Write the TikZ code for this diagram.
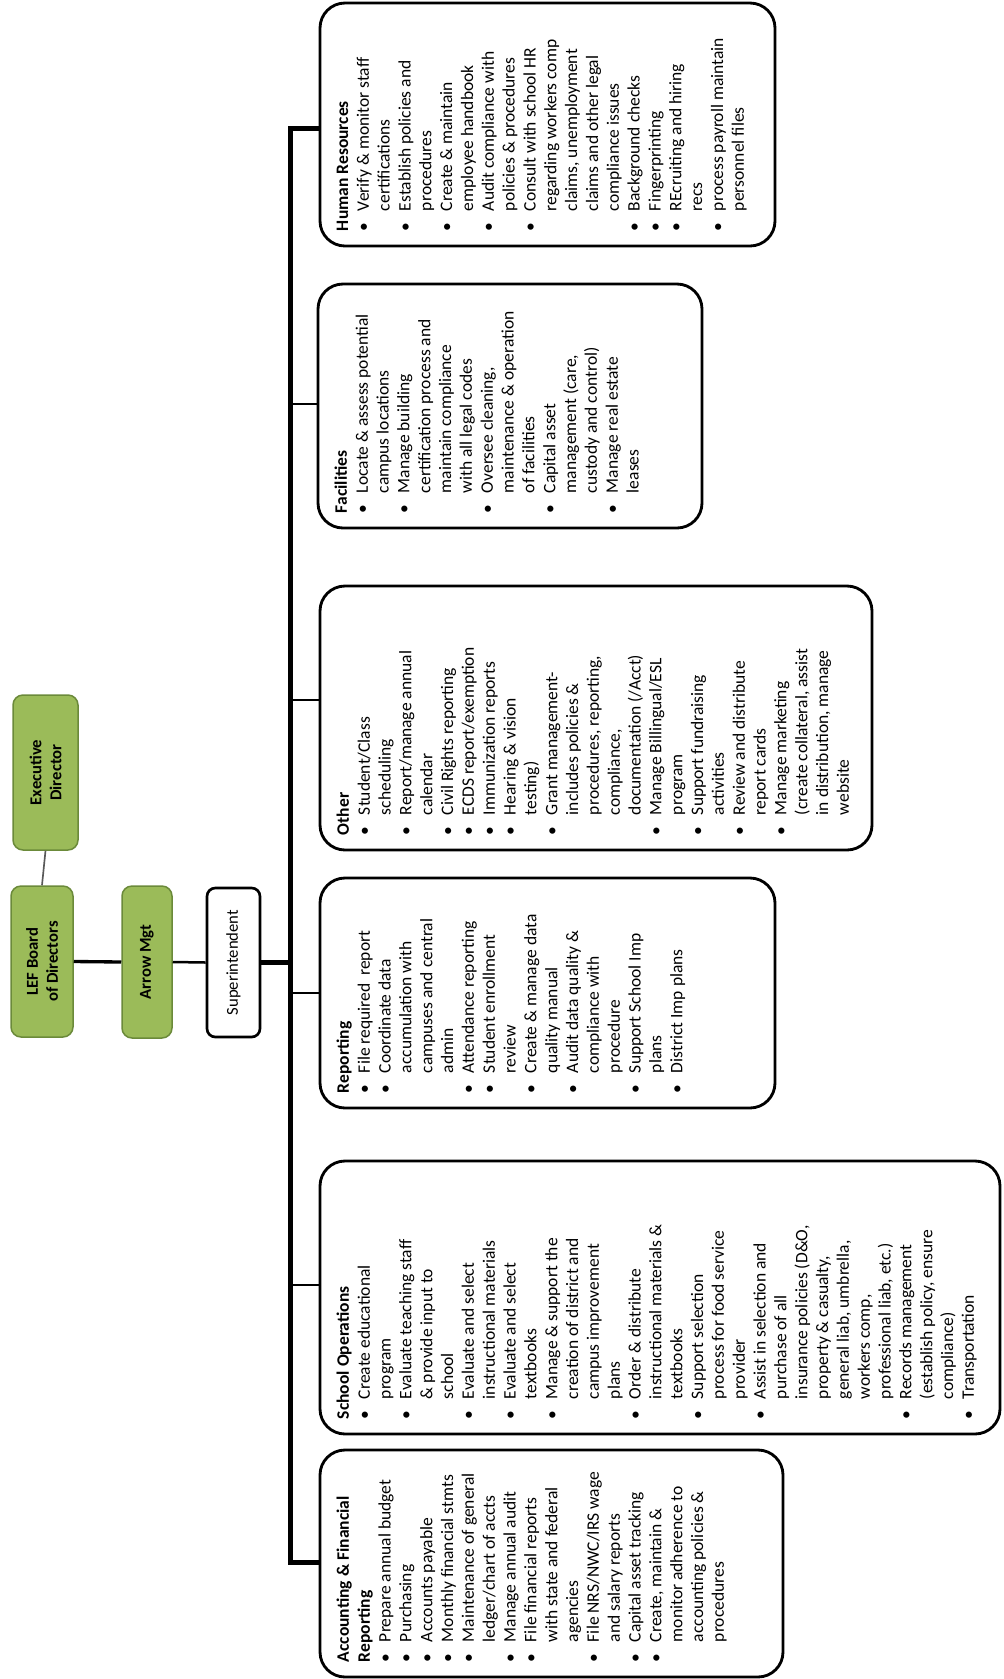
\documentclass[tikz,border=0pt]{standalone}
\usepackage{fontspec}
\setmainfont{Carlito}
\definecolor{boardgreen}{HTML}{9BBB59}
\definecolor{boardline}{HTML}{6B8A3A}
\newcommand{\deptlist}[3]{\begin{minipage}[t][#2][t]{#1}\raggedright\let\\\newline\fontsize{10.5}{12.5}\selectfont #3\end{minipage}}
\newcommand{\bitem}{\par\hangindent=12pt\hangafter=1\noindent\makebox[12pt][l]{\textbullet}}

\begin{document}
\begin{tikzpicture}[x=0.6pt, y=-0.6pt,
                dept/.style={draw, line width=1.7pt, rounded corners=15pt, rotate=90, inner xsep=9pt, inner ysep=10pt},
                greenbox/.style={draw=boardline, line width=0.9pt, fill=boardgreen, rounded corners=6pt, rotate=90, inner sep=0pt, align=center, font=\bfseries\fontsize{10}{12}\selectfont},
                superbox/.style={draw, line width=1.6pt, rounded corners=5pt, rotate=90, inner sep=0pt, font=\fontsize{10}{12}\selectfont},
                trunk/.style={line width=3pt},
                branch/.style={line width=1.3pt}]
                \useasboundingbox (0,0) rectangle (1003,1679);
                % Boxes, nodes and lines:
                \node[greenbox, minimum width=93pt, minimum height=39pt](Exec) at (45.5, 772.5){Executive\\Director};
                \node[greenbox, minimum width=90.6pt, minimum height=37.2pt](Board) at (42, 961.5){LEF Board\\of Directors};
                \node[greenbox, minimum width=91.2pt, minimum height=30pt](Arrow) at (147, 962){Arrow Mgt};
                \node[superbox, minimum width=89.4pt, minimum height=31.8pt](Super) at (233.5, 962.5){Superintendent};
                \node[dept](HR) at (547.5, 124.5){\deptlist{127.8pt}{253pt}{\textbf{Human Resources}
                        \bitem Verify \& monitor staff\\certifications
                        \bitem Establish policies and\\procedures
                        \bitem Create \& maintain\\employee handbook
                        \bitem Audit compliance with\\policies \& procedures
                        \bitem Consult with school HR\\regarding workers comp\\claims, unemployment\\claims and other legal\\compliance issues
                        \bitem Background checks
                        \bitem Fingerprinting
                        \bitem REcruiting and hiring\\recs
                        \bitem process payroll maintain\\personnel files}};
                \node[dept](Fac) at (510, 406){\deptlist{128.4pt}{210.4pt}{\textbf{Facilities}
                        \bitem Locate \& assess potential\\campus locations
                        \bitem Manage building\\certification process and\\maintain compliance\\with all legal codes
                        \bitem Oversee cleaning,\\maintenance \& operation\\of facilities
                        \bitem Capital asset\\management (care,\\custody and control)
                        \bitem Manage real estate\\leases}};
                \node[dept](Oth) at (596, 718){\deptlist{140.4pt}{311.2pt}{\textbf{Other}
                        \bitem Student/Class\\scheduling
                        \bitem Report/manage annual\\calendar
                        \bitem Civil Rights reporting
                        \bitem ECDS report/exemption
                        \bitem Immunization reports
                        \bitem Hearing \& vision\\testing)
                        \bitem Grant management-\\includes policies \&\\procedures, reporting,\\compliance,\\documentation (/Acct)
                        \bitem Manage Billingual/ESL\\program
                        \bitem Support fundraising\\activities
                        \bitem Review and distribute\\report cards
                        \bitem Manage marketing\\(create collateral, assist\\in distribution, manage\\website}};
                \node[dept](Rep) at (547.5, 993){\deptlist{120pt}{253pt}{\textbf{Reporting}
                        \bitem File required\ \ report
                        \bitem Coordinate data\\accumulation with\\campuses and central\\admin
                        \bitem Attendance reporting
                        \bitem Student enrollment\\review
                        \bitem Create \& manage data\\quality manual
                        \bitem Audit data quality \&\\compliance with\\procedure
                        \bitem Support School Imp\\plans
                        \bitem District Imp plans}};
                \node[dept](Ops) at (660, 1297.5){\deptlist{145.8pt}{388pt}{\textbf{School Operations}
                        \bitem Create educational\\program
                        \bitem Evaluate teaching staff\\\& provide input to\\school
                        \bitem Evaluate and select\\instructional materials
                        \bitem Evaluate and select\\textbooks
                        \bitem Manage \& support the\\creation of district and\\campus improvement\\plans
                        \bitem Order \& distribute\\instructional materials \&\\textbooks
                        \bitem Support selection\\process for food service\\provider
                        \bitem Assist in selection and\\purchase of all\\insurance policies (D\&O,\\property \& casualty,\\general liab, umbrella,\\workers comp,\\professional liab, etc.)
                        \bitem Records management\\(establish policy, ensure\\compliance)
                        \bitem Transportation}};
                \node[dept](Acc) at (551.5, 1563.5){\deptlist{118.2pt}{257.8pt}{\textbf{Accounting \& Financial\\Reporting}
                        \bitem Prepare annual budget
                        \bitem Purchasing
                        \bitem Accounts payable
                        \bitem Monthly financial stmts
                        \bitem Maintenance of general\\ledger/chart of accts
                        \bitem Manage annual audit
                        \bitem File financial reports\\with state and federal\\agencies
                        \bitem File NRS/NWC/IRS wage\\and salary reports
                        \bitem Capital asset tracking
                        \bitem Create, maintain \&\\monitor adherence to\\accounting policies \&\\procedures}};
                \coordinate (jHR) at (290, 128);
                \coordinate (jFac) at (290, 404);
                \coordinate (jOth) at (290, 700);
                \coordinate (jRep) at (290, 993);
                \coordinate (jOps) at (290, 1285);
                \coordinate (jAcc) at (290, 1562);
                \draw[line width=1pt, black!65] (Board.east) -- (Exec.west);
                \draw[line width=2pt] (Board.south) -- (Arrow.north);
                \draw[line width=1.5pt] (Arrow.south) -- (Super.north);
                \draw[line width=2.6pt] (Super.south) -- (Super.south -| jHR);
                \draw[trunk] (jHR -| HR.north) -- (jHR) -- (jAcc) -- (jAcc -| Acc.north);
                \foreach \n in {Fac, Oth, Rep, Ops}
                    \draw[branch] (j\n) -- (j\n -| \n.north);
            \end{tikzpicture}
\end{document}
